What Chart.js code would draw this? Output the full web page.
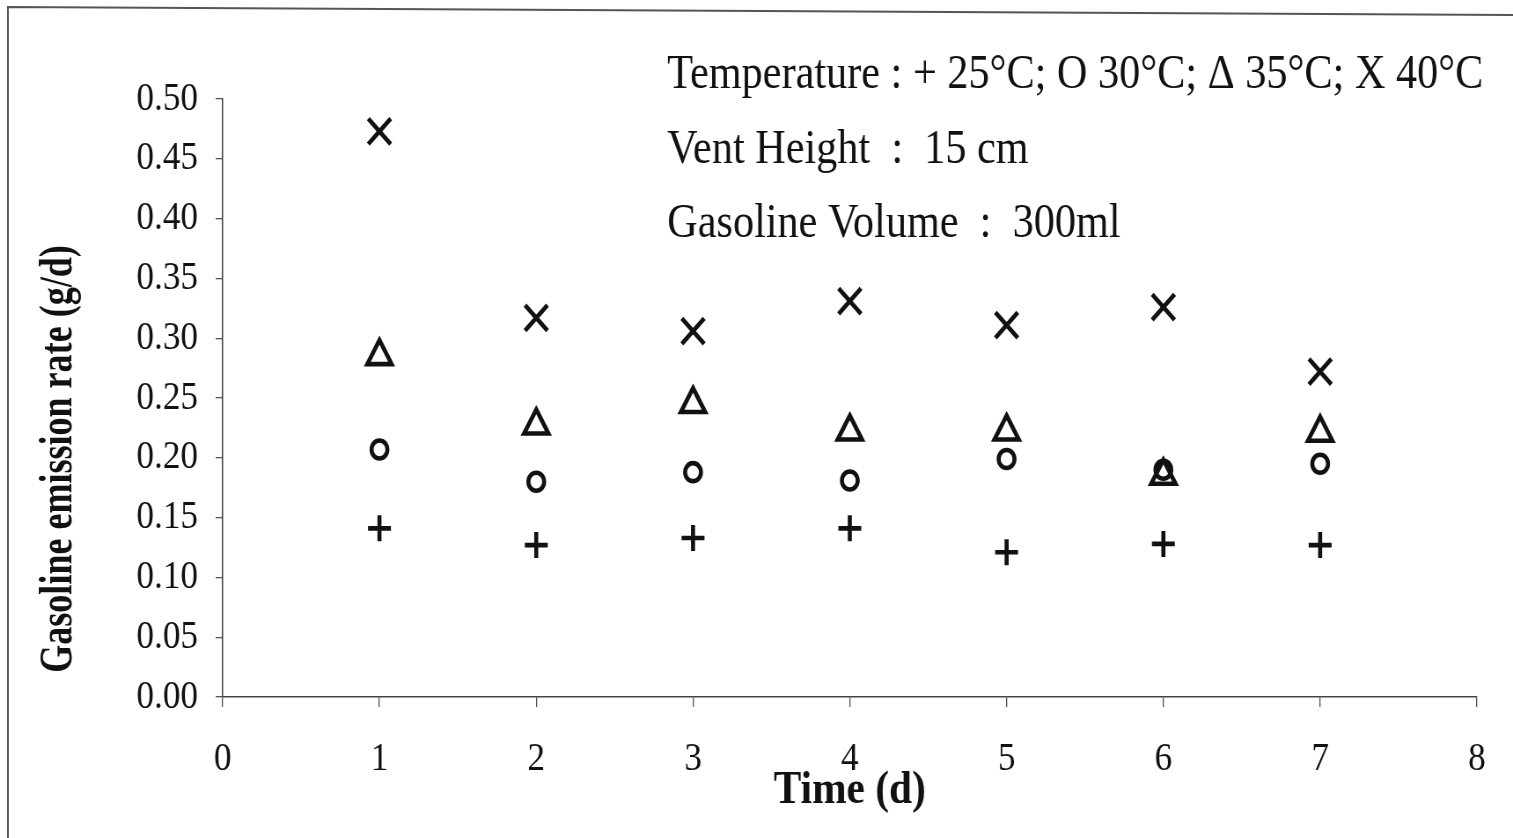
<!DOCTYPE html>
<html>
<head>
<meta charset="utf-8">
<title>Gasoline emission rate</title>
<script src="https://cdn.jsdelivr.net/npm/chart.js@4.4.1/dist/chart.umd.min.js"></script>
<style>
  html, body { margin: 0; padding: 0; background: #fff; overflow: hidden; }
</style>
</head>
<body>
<!-- the original is a bit squeezed sideways, so the canvas is drawn wider and shown at 1513px -->
<canvas id="chart" width="1719" height="838" style="display:block;width:1513px;height:838px"></canvas>
<script>
// Time (d)
const days = [1, 2, 3, 4, 5, 6, 7];

// Gasoline emission rate (g/d) per temperature
const rate25 = [0.141, 0.127, 0.133, 0.141, 0.121, 0.128, 0.127];
const rate30 = [0.207, 0.180, 0.188, 0.181, 0.199, 0.190, 0.195];
const rate35 = [0.285, 0.227, 0.245, 0.222, 0.222, 0.185, 0.221];
const rate40 = [0.473, 0.317, 0.306, 0.331, 0.311, 0.326, 0.272];

const xTicks = [0, 1, 2, 3, 4, 5, 6, 7, 8];
const yTicks = [0, 0.05, 0.10, 0.15, 0.20, 0.25, 0.30, 0.35, 0.40, 0.45, 0.50];

const notes = [
  "Temperature : + 25°C; O 30°C; Δ 35°C; X 40°C",
  "Vent Height  :  15 cm",
  "Gasoline Volume  :  300ml"
];
const yTitle = "Gasoline emission rate (g/d)";
const xTitle = "Time (d)";

const serif = "'Liberation Serif', 'Times New Roman', serif";
const ink = "#111";

function series(label, values, style, radius) {
  return {
    label: label,
    data: days.map((d, i) => ({ x: d, y: values[i] })),
    pointStyle: style,
    pointRadius: radius,
    pointBorderWidth: 4.6,
    pointBorderColor: ink,
    pointBackgroundColor: "rgba(0,0,0,0)",
    showLine: false
  };
}

// frame, the text block and the squeezed y title
const extras = {
  id: "extras",
  afterDraw(chart) {
    const ctx = chart.ctx;
    ctx.save();
    ctx.strokeStyle = "#555";
    ctx.lineWidth = 2;
    ctx.beginPath();
    ctx.moveTo(9, chart.height);
    ctx.lineTo(9, 7);
    ctx.lineTo(chart.width, 15);
    ctx.stroke();

    ctx.fillStyle = ink;
    ctx.font = "48px " + serif;
    ctx.textAlign = "left";
    ctx.textBaseline = "alphabetic";
    const baselines = [88, 163, 237];
    notes.forEach((t, i) => ctx.fillText(t, 758, baselines[i]));

    ctx.translate(81, 459);
    ctx.rotate(-Math.PI / 2);
    ctx.scale(0.68, 1);
    ctx.font = "bold 53px " + serif;
    ctx.textAlign = "center";
    ctx.fillText(yTitle, 0, 0);
    ctx.restore();
  }
};

new Chart(document.getElementById("chart"), {
  type: "scatter",
  data: {
    datasets: [
      series("25°C", rate25, "cross", 13),
      series("30°C", rate30, "circle", 9),
      series("35°C", rate35, "triangle", 16),
      series("40°C", rate40, "crossRot", 18)
    ]
  },
  options: {
    responsive: false,
    devicePixelRatio: 1,
    animation: false,
    events: [],
    layout: { padding: { top: 99, right: 41, bottom: 0, left: 0 } },
    plugins: { legend: { display: false }, tooltip: { enabled: false } },
    scales: {
      x: {
        type: "linear",
        min: 0,
        max: 8,
        afterBuildTicks: axis => { axis.ticks = xTicks.map(v => ({ value: v })); },
        afterFit: axis => { axis.height = 141; },
        grid: { drawOnChartArea: false, tickLength: 10, color: "#555", lineWidth: 1.3 },
        border: { color: "#444", width: 1.5 },
        ticks: { font: { family: serif, size: 40 }, color: ink, padding: 28, maxRotation: 0 },
        title: {
          display: true,
          text: xTitle,
          color: ink,
          font: { family: serif, size: 47, weight: "bold" },
          padding: { top: 0, bottom: 19 }
        }
      },
      y: {
        min: 0,
        max: 0.5,
        afterBuildTicks: axis => { axis.ticks = yTicks.map(v => ({ value: v })); },
        afterFit: axis => { axis.width = 253; },
        grid: { drawOnChartArea: false, tickLength: 8, color: "#555", lineWidth: 1.3 },
        border: { color: "#444", width: 1.5 },
        ticks: {
          font: { family: serif, size: 40 },
          color: ink,
          padding: 20,
          callback: v => v.toFixed(2)
        }
      }
    }
  },
  plugins: [extras]
});
</script>
</body>
</html>
